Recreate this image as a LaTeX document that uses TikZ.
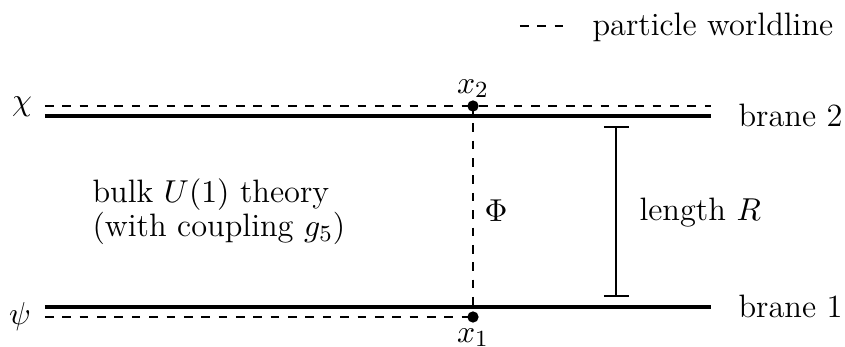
\documentclass[tikz,border=0pt]{standalone}
\begin{document}
\begin{tikzpicture}[x=0.01215cm,y=-0.01215cm,
  brane/.style={line width=1.4pt},
  world/.style={line width=0.7pt,dash pattern=on 3pt off 3pt},
  ptdot/.style={circle,fill=black,inner sep=0pt,minimum size=3.9pt},
  bar/.style={line width=0.8pt},
  lbl/.style={inner sep=0pt,font=\fontsize{11.2}{11.8}\selectfont}]
\useasboundingbox (0,0) rectangle (845,347);
% coordinates
\coordinate (b2l) at (45,116);
\coordinate (b2r) at (711,116);
\coordinate (b1l) at (45,307);
\coordinate (b1r) at (711,307);
\coordinate (w2l) at (45,106);
\coordinate (w2r) at (711,106);
\coordinate (w1l) at (45,317);
\node[ptdot] (x2) at (473,106) {};
\node[ptdot] (x1) at (473,317) {};
% branes
\draw[brane] (b2l) -- (b2r);
\draw[brane] (b1l) -- (b1r);
% worldlines
\draw[world] (w2l) -- (w2r);
\draw[world] (w1l) -- (x1.center);
\draw[world] (x2.center) -- (x1.center);
% labels
\node[lbl,anchor=base] (x2l) at (473,93) {$x_2$};
\node[lbl,anchor=base] (x1l) at (473,342) {$x_1$};
\node[lbl] (chi) at (22,107) {$\chi$};
\node[lbl] (psi) at (20,317) {$\psi$};
\node[lbl,anchor=base west] (phi) at (484,221) {$\Phi$};
\node[lbl,anchor=base west] (br2) at (738,126) {brane 2};
\node[lbl,anchor=base west] (br1) at (738,317) {brane 1};
\node[lbl,anchor=north west,align=left] (bulk) at (92,178) {bulk $U(1)$ theory\\(with coupling $g_5$)};
% length bar
\coordinate (lt) at (616,127);
\coordinate (lb) at (616,296);
\coordinate (ltl) at (604,127);
\coordinate (ltr) at (629,127);
\coordinate (lbl) at (604,296);
\coordinate (lbr) at (629,296);
\draw[bar] (lt) -- (lb);
\draw[bar] (ltl) -- (ltr);
\draw[bar] (lbl) -- (lbr);
\node[lbl,anchor=base west] (len) at (639,220) {length $R$};
% legend
\coordinate (lg1) at (520,26);
\coordinate (lg2) at (570,26);
\draw[world] (lg1) -- (lg2);
\node[lbl,anchor=base west] (leg) at (592,35) {particle worldline};
\end{tikzpicture}
\end{document}
